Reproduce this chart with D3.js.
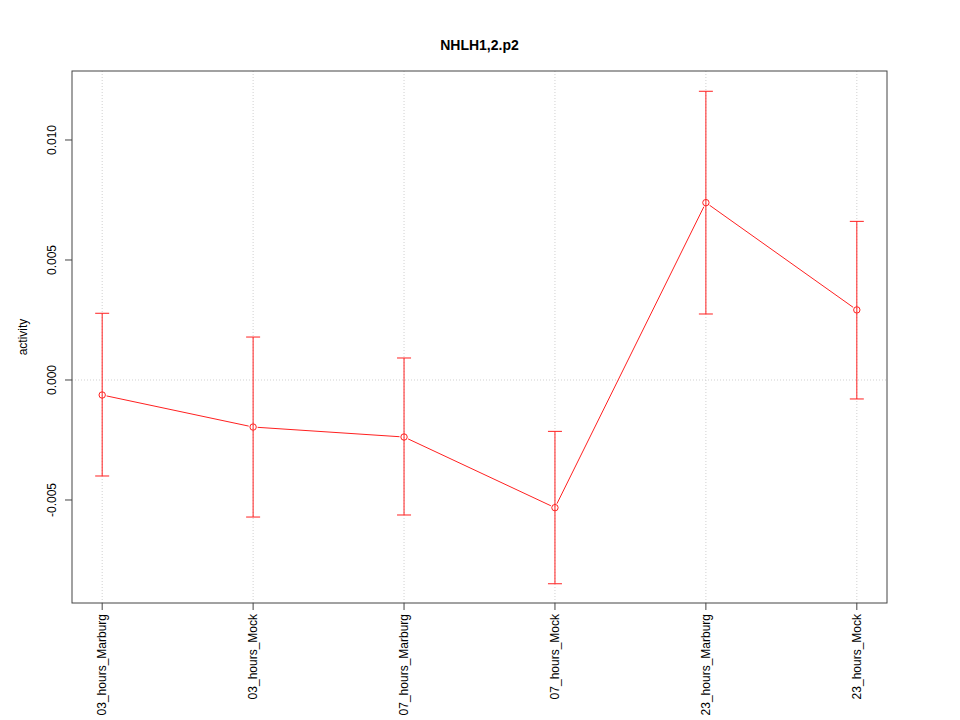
<!DOCTYPE html>
<html>
<head>
<meta charset="utf-8">
<script src="https://cdn.jsdelivr.net/npm/d3@7"></script>
<style>
  body { margin: 0; background: #fff; }
  svg { display: block; font-family: "Liberation Sans", Arial, sans-serif; }
</style>
</head>
<body>
<svg id="chart" width="960" height="720"></svg>
<script>
// activity per condition, with upper / lower error bounds
const conditions = ['03_hours_Marburg', '03_hours_Mock', '07_hours_Marburg', '07_hours_Mock', '23_hours_Marburg', '23_hours_Mock'];
const activity = [-0.000625, -0.00196, -0.002375, -0.00532, 0.00739, 0.00292];
const upper = [0.00278, 0.00179, 0.000917, -0.00214, 0.01203, 0.00661];
const lower = [-0.0040, -0.00571, -0.005625, -0.00849, 0.00275, -0.00079];
const yTicks = [-0.005, 0, 0.005, 0.010];

const svg = d3.select('#chart');
const plotL = 72, plotR = 887, plotT = 71, plotB = 603;
const red = '#ff2020';

const x = d3.scaleLinear().domain([0.8, 6.2]).range([plotL, plotR]);
const y = d3.scaleLinear().domain([-0.0092917, 0.012875]).range([plotB, plotT]);

const points = conditions.map((c, i) => ({ c, i: i + 1, v: activity[i], hi: upper[i], lo: lower[i] }));

// grid: vertical at each condition, horizontal at zero
svg.append('g')
  .selectAll('line')
  .data(points)
  .join('line')
  .attr('x1', d => x(d.i)).attr('x2', d => x(d.i))
  .attr('y1', plotT).attr('y2', plotB)
  .attr('stroke', '#d0d0d0').attr('stroke-dasharray', '1,2');

svg.append('line')
  .attr('x1', plotL).attr('x2', plotR)
  .attr('y1', y(0)).attr('y2', y(0))
  .attr('stroke', '#d0d0d0').attr('stroke-dasharray', '1,2');

// error bars
const eb = svg.append('g').attr('stroke', red).attr('fill', 'none');
eb.selectAll('.bar')
  .data(points)
  .join('line')
  .attr('class', 'bar')
  .attr('x1', d => x(d.i)).attr('x2', d => x(d.i))
  .attr('y1', d => y(d.hi)).attr('y2', d => y(d.lo));
['hi', 'lo'].forEach(k => {
  eb.selectAll('.cap-' + k)
    .data(points)
    .join('line')
    .attr('class', 'cap-' + k)
    .attr('x1', d => x(d.i) - 7).attr('x2', d => x(d.i) + 7)
    .attr('y1', d => y(d[k])).attr('y2', d => y(d[k]));
});

// connecting segments with a gap around each point (type "b")
const gap = 4.5;
const segs = d3.pairs(points).map(([a, b]) => {
  const x0 = x(a.i), y0 = y(a.v), x1 = x(b.i), y1 = y(b.v);
  const len = Math.hypot(x1 - x0, y1 - y0);
  const ux = (x1 - x0) / len, uy = (y1 - y0) / len;
  return [x0 + ux * gap, y0 + uy * gap, x1 - ux * gap, y1 - uy * gap];
});
svg.append('g')
  .selectAll('line')
  .data(segs)
  .join('line')
  .attr('x1', d => d[0]).attr('y1', d => d[1])
  .attr('x2', d => d[2]).attr('y2', d => d[3])
  .attr('stroke', red);

svg.append('g')
  .selectAll('circle')
  .data(points)
  .join('circle')
  .attr('cx', d => x(d.i)).attr('cy', d => y(d.v))
  .attr('r', 3.2)
  .attr('fill', 'none').attr('stroke', red);

// plot box
svg.append('rect')
  .attr('x', plotL).attr('y', plotT)
  .attr('width', plotR - plotL).attr('height', plotB - plotT)
  .attr('fill', 'none').attr('stroke', '#444');

// y axis
const yAxis = svg.append('g');
yAxis.selectAll('line')
  .data(yTicks)
  .join('line')
  .attr('x1', plotL - 7).attr('x2', plotL)
  .attr('y1', d => y(d)).attr('y2', d => y(d))
  .attr('stroke', '#444');
yAxis.selectAll('text')
  .data(yTicks)
  .join('text')
  .attr('transform', d => `translate(56,${y(d)}) rotate(-90)`)
  .attr('text-anchor', 'middle')
  .attr('font-size', 12)
  .text(d => d3.format('.3f')(d).replace('−', '-'));

// x axis
const xAxis = svg.append('g');
xAxis.selectAll('line')
  .data(points)
  .join('line')
  .attr('x1', d => x(d.i)).attr('x2', d => x(d.i))
  .attr('y1', plotB).attr('y2', plotB + 7)
  .attr('stroke', '#444');
xAxis.selectAll('text')
  .data(points)
  .join('text')
  .attr('transform', d => `translate(${x(d.i) + 4},${plotB + 11}) rotate(-90)`)
  .attr('text-anchor', 'end')
  .attr('font-size', 12)
  .text(d => d.c);

// labels
svg.append('text')
  .attr('transform', `translate(27,${(plotT + plotB) / 2}) rotate(-90)`)
  .attr('text-anchor', 'middle')
  .attr('font-size', 12)
  .text('activity');

svg.append('text')
  .attr('x', (plotL + plotR) / 2).attr('y', 50)
  .attr('text-anchor', 'middle')
  .attr('font-size', 14).attr('font-weight', 'bold')
  .text('NHLH1,2.p2');
</script>
</body>
</html>
